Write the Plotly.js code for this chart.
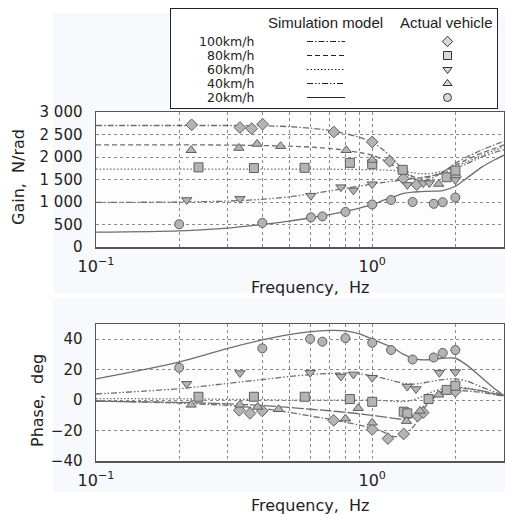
<!DOCTYPE html>
<html><head><meta charset="utf-8">
<script src="https://cdn.plot.ly/plotly-3.0.1.min.js"></script>
<style>html,body{margin:0;padding:0;background:#ffffff}</style>
</head><body><div id="chart" style="width:505px;height:515px"></div>
<script>
// ---------- data ----------
const speeds = ['100km/h', '80km/h', '60km/h', '40km/h', '20km/h'];
const simFreq = [0.1,0.2,0.3,0.4,0.5,0.6,0.7,0.8,0.9,1.0,1.1,1.2,1.3,1.4,1.5,1.6,1.8,2.0,2.2,2.5,2.8,3.0];
// simulation model, gain (N/rad)
const simGain100 = [2700,2700,2700,2695,2675,2640,2590,2520,2435,2330,2150,1930,1700,1530,1470,1500,1660,1860,2000,2160,2280,2350];
const simGain80  = [2270,2270,2265,2255,2240,2220,2190,2150,2100,2040,1930,1800,1670,1570,1530,1550,1670,1820,1940,2090,2200,2270];
const simGain60  = [1730,1730,1730,1730,1730,1730,1728,1725,1722,1718,1710,1700,1680,1650,1630,1630,1680,1790,1890,2040,2160,2230];
const simGain40  = [990,1000,1020,1060,1115,1180,1245,1305,1355,1400,1435,1465,1495,1520,1545,1570,1640,1740,1850,2000,2110,2160];
const simGain20  = [330,360,420,500,575,650,720,795,865,940,1040,1120,1190,1220,1230,1238,1255,1350,1530,1780,1950,2040];
// simulation model, phase (deg)
const simPhase100 = [-0.5,-2,-3.5,-5.5,-8,-10.5,-12.5,-14.5,-16.5,-18.5,-21,-24,-23,-18,-10,-1,6,6.5,6,5,3.5,2.5];
const simPhase80  = [-0.8,-1.5,-2.5,-3.5,-4.8,-6,-7,-8,-9,-10,-11,-12,-12.5,-11,-6,-1,5.5,7.5,7.5,6,4,3];
const simPhase60  = [1,0.8,0.5,0.3,0,0,0,0,0,0,-0.3,-0.8,-1,0,2,4.5,7.5,8.5,8,6,4,3];
const simPhase40  = [4,7.5,11,13.5,15.5,16.8,17.5,17.8,17.2,16,14.3,12.5,11,10.5,11,12,13.5,14,12.5,8.5,5,3];
const simPhase20  = [14,25,34,39.5,43,45,45.8,45.5,43.5,40,37,34,30,27.5,26.5,26.5,27.5,27.5,23,14.5,7,3];

// actual vehicle, gain
const gFreq100 = [0.222,0.332,0.366,0.401,0.726,1.0,1.157,1.297,1.45,2.0];
const gVal100  = [2715,2655,2630,2730,2555,2335,1905,1520,1385,1570];
const gFreq80  = [0.235,0.373,0.569,0.83,1.0,1.29,1.86,2.0];
const gVal80   = [1770,1755,1760,1870,1840,1715,1550,1700];
const gFreq60  = [0.213,0.332,0.60,0.77,0.855,1.0,1.34,1.53,1.61,2.0];
const gVal60   = [1045,1070,1140,1330,1260,1395,1380,1420,1420,1490];
const gFreq40  = [0.221,0.329,0.383,0.466,0.805,1.0,1.74];
const gVal40   = [2150,2200,2290,2240,2150,1935,1400];
const gFreq20  = [0.20,0.40,0.60,0.66,0.80,1.0,1.17,1.40,1.67,1.80,2.0];
const gVal20   = [505,535,660,680,780,945,1045,1000,960,995,1100];

// actual vehicle, phase
const pFreq100 = [0.33,0.361,0.40,0.725,1.0,1.14,1.30,1.46,1.53,2.0];
const pVal100  = [-6.7,-8.7,-7.1,-13.3,-19.3,-25.3,-22.2,-10.5,-8.2,5.8];
const pFreq80  = [0.235,0.373,0.57,0.83,1.0,1.30,1.34,1.60,1.86,2.0];
const pVal80   = [2.2,2.2,2.2,0.7,-1.1,-7.6,-8.7,0.7,6.7,9.5];
const pFreq60  = [0.213,0.332,0.596,0.77,0.855,1.0,1.34,1.44,1.75,2.0];
const pVal60   = [10.7,17.8,18,15.5,16.9,14.7,8.9,7.3,18,18.4];
const pFreq40  = [0.221,0.332,0.385,0.458,0.80,0.89,1.0,1.33,1.49,1.74];
const pVal40   = [-3.1,-3.1,-4.5,-6,-12.2,-5.3,-14.9,-13.8,-7.1,3.5];
const pFreq20  = [0.20,0.40,0.596,0.66,0.80,1.0,1.17,1.40,1.67,1.80,2.0];
const pVal20   = [21.3,34,40.2,38.4,40.7,37.7,32.9,26.7,28,31,32.9];

// axis ticks
const xTickVals = [0.1, 1];
const xTickText = ['10<sup>\u22121</sup>', '10<sup>0</sup>'];
const xGridVals = [0.2,0.3,0.4,0.5,0.6,0.7,0.8,0.9,2,3];
const gainTickVals = [0,500,1000,1500,2000,2500,3000];
const gainTickText = ['0','500','1 000','1 500','2 000','2 500','3 000'];
const phaseTickVals = [-40,-20,0,20,40];
const phaseTickText = ['\u221240','\u221220','0','20','40'];

// ---------- styles ----------
const dashes = ['6px,2px,1.5px,2px', '5px,3px', '1.5px,2px', '6px,2px,1.5px,2px,1.5px,2px', 'solid'];
const phaseDashes = ['6px,2px,1.5px,2px', '12px,2px', '1.5px,2px', '6px,2px,1.5px,2px,1.5px,2px', 'solid'];
const symbols = ['diamond', 'square', 'triangle-down', 'triangle-up', 'circle'];
const lineCol = '#6e6e6e';
const gridCol = '#8a8a8a';
const mk = sym => ({symbol: sym, size: 9, color: '#b4b4b4', line: {color: '#5e5e5e', width: 1}});

const simG = [simGain100, simGain80, simGain60, simGain40, simGain20];
const simP = [simPhase100, simPhase80, simPhase60, simPhase40, simPhase20];
const gF = [gFreq100, gFreq80, gFreq60, gFreq40, gFreq20];
const gV = [gVal100, gVal80, gVal60, gVal40, gVal20];
const pF = [pFreq100, pFreq80, pFreq60, pFreq40, pFreq20];
const pV = [pVal100, pVal80, pVal60, pVal40, pVal20];

const traces = [];
for (let i = 0; i < 5; i++) {
  traces.push({x: simFreq, y: simG[i], xaxis: 'x', yaxis: 'y', mode: 'lines', line: {color: lineCol, width: 1.3, dash: dashes[i], shape: 'spline', smoothing: 0.8}, showlegend: false, hoverinfo: 'skip'});
  traces.push({x: simFreq, y: simP[i], xaxis: 'x2', yaxis: 'y2', mode: 'lines', line: {color: lineCol, width: 1.3, dash: phaseDashes[i], shape: 'spline', smoothing: 0.8}, showlegend: false, hoverinfo: 'skip'});
}
for (let i = 0; i < 5; i++) {
  traces.push({x: gF[i], y: gV[i], xaxis: 'x', yaxis: 'y', mode: 'markers', marker: mk(symbols[i]), showlegend: false});
  traces.push({x: pF[i], y: pV[i], xaxis: 'x2', yaxis: 'y2', mode: 'markers', marker: mk(symbols[i]), showlegend: false});
}

// custom legend table (drawn in its own pixel-like axes)
const legRowY = [41.5, 55.5, 69.5, 83.5, 97.5];
for (let i = 0; i < 5; i++) {
  traces.push({x: [307, 345], y: [legRowY[i], legRowY[i]], xaxis: 'x3', yaxis: 'y3', mode: 'lines', line: {color: '#222', width: 1.2, dash: dashes[i]}, showlegend: false, hoverinfo: 'skip'});
}
traces.push({x: legRowY.map(() => 447.5), y: legRowY, xaxis: 'x3', yaxis: 'y3', mode: 'markers',
  marker: {symbol: symbols, size: 8, color: '#d8d8d8', line: {color: '#333', width: 1}}, showlegend: false});

const W = 505, H = 515;
const px = v => v / W, py = v => 1 - v / H;
const font = {family: 'DejaVu Sans, sans-serif', size: 16, color: '#222'};
const tickFont = {family: 'DejaVu Sans, sans-serif', size: 15, color: '#222'};

const xBase = {
  type: 'log', range: [-1, Math.log10(3)], domain: [px(96), px(504)],
  tickmode: 'array', tickvals: xTickVals, ticktext: xTickText,
  minor: {tickmode: 'array', tickvals: xGridVals, showgrid: true, gridcolor: gridCol, griddash: 'dot', gridwidth: 1, ticks: ''},
  showgrid: true, gridcolor: gridCol, griddash: 'dot', gridwidth: 1,
  showline: true, mirror: true, linecolor: '#555', linewidth: 1.5,
  ticks: '', tickfont: {family: 'DejaVu Sans, sans-serif', size: 16, color: '#222'}, zeroline: false, ticklabelstandoff: 4
};
const yBase = {
  showgrid: true, gridcolor: gridCol, griddash: 'dot', gridwidth: 1,
  showline: true, mirror: true, linecolor: '#555', linewidth: 1.5,
  ticks: '', tickfont: tickFont, zeroline: false, tickmode: 'array', ticklabelstandoff: 9
};

const hdrFont = {family: 'Liberation Sans Narrow, Arial Narrow, Liberation Sans, sans-serif', size: 15, color: '#222'};
const annotations = [
  {text: 'Simulation model', x: 325, y: 22, xref: 'x3', yref: 'y3', xanchor: 'center', yanchor: 'middle', showarrow: false, font: hdrFont},
  {text: 'Actual vehicle', x: 446, y: 22, xref: 'x3', yref: 'y3', xanchor: 'center', yanchor: 'middle', showarrow: false, font: hdrFont},
  {text: 'Gain,\u00a0\u00a0N/rad', x: px(18), y: py(177), xref: 'paper', yref: 'paper', xanchor: 'center', yanchor: 'middle', showarrow: false, textangle: -90, font: font},
  {text: 'Phase,\u00a0\u00a0deg', x: px(37), y: py(401), xref: 'paper', yref: 'paper', xanchor: 'center', yanchor: 'middle', showarrow: false, textangle: -90, font: font},
  {text: 'Frequency,\u00a0\u00a0Hz', x: px(310), y: py(287), xref: 'paper', yref: 'paper', xanchor: 'center', yanchor: 'middle', showarrow: false, font: font},
  {text: 'Frequency,\u00a0\u00a0Hz', x: px(310), y: py(505), xref: 'paper', yref: 'paper', xanchor: 'center', yanchor: 'middle', showarrow: false, font: font}
];
for (let i = 0; i < 5; i++) {
  annotations.push({text: speeds[i], x: 256, y: legRowY[i], xref: 'x3', yref: 'y3', xanchor: 'right', yanchor: 'middle', showarrow: false,
    font: {family: 'DejaVu Sans, sans-serif', size: 12.5, color: '#222'}});
}

const shade = '#f8f9fc';
const shapes = [
  {type: 'rect', xref: 'paper', yref: 'paper', x0: px(53), x1: 1, y0: py(293), y1: py(13), fillcolor: shade, line: {width: 0}, layer: 'below'},
  {type: 'rect', xref: 'paper', yref: 'paper', x0: px(53), x1: 1, y0: py(492), y1: py(298), fillcolor: shade, line: {width: 0}, layer: 'below'},
  {type: 'rect', xref: 'x domain', yref: 'y domain', x0: 0, x1: 1, y0: 0, y1: 1, fillcolor: '#fdfdfe', line: {width: 0}, layer: 'below'},
  {type: 'rect', xref: 'x2 domain', yref: 'y2 domain', x0: 0, x1: 1, y0: 0, y1: 1, fillcolor: '#fdfdfe', line: {width: 0}, layer: 'below'},
  {type: 'rect', xref: 'x3 domain', yref: 'y3 domain', x0: 0, x1: 1, y0: 0, y1: 1, fillcolor: '#ffffff', line: {width: 0}, layer: 'below'}
];

const layout = {
  width: W, height: H, margin: {l: 0, r: 0, t: 0, b: 0},
  paper_bgcolor: '#ffffff', plot_bgcolor: 'rgba(0,0,0,0)', showlegend: false,
  xaxis: Object.assign({}, xBase, {anchor: 'y'}),
  yaxis: Object.assign({}, yBase, {domain: [py(247), py(112)], range: [0, 3000], tickvals: gainTickVals, ticktext: gainTickText, anchor: 'x'}),
  xaxis2: Object.assign({}, xBase, {anchor: 'y2'}),
  yaxis2: Object.assign({}, yBase, {domain: [py(461), py(324)], range: [-40, 50], tickvals: phaseTickVals, ticktext: phaseTickText, anchor: 'x2'}),
  xaxis3: {domain: [px(171), px(497)], range: [171, 497], anchor: 'y3', showgrid: false, zeroline: false, showticklabels: false, ticks: '', showline: true, mirror: true, linecolor: '#222', linewidth: 1.3, fixedrange: true},
  yaxis3: {domain: [py(108), py(9)], range: [108, 9], anchor: 'x3', showgrid: false, zeroline: false, showticklabels: false, ticks: '', showline: true, mirror: true, linecolor: '#222', linewidth: 1.3, fixedrange: true},
  shapes: shapes,
  annotations: annotations
};

Plotly.newPlot('chart', traces, layout, {displayModeBar: false, staticPlot: true});
</script>
</body></html>
